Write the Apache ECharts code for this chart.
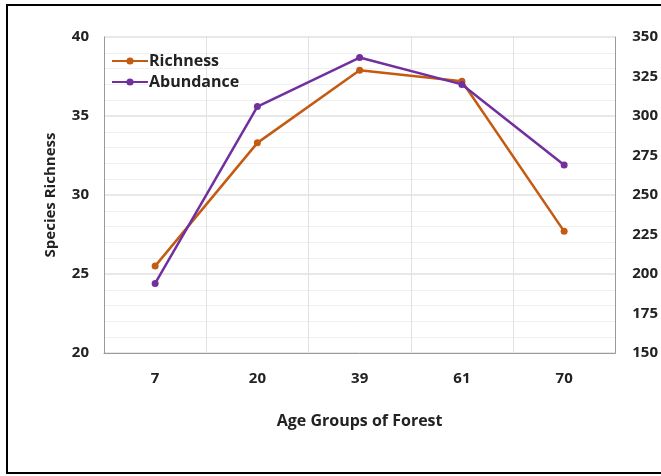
<!DOCTYPE html>
<html>
<head>
<meta charset="utf-8">
<script src="https://cdn.jsdelivr.net/npm/echarts@6/dist/echarts.min.js"></script>
<style>
  html, body { margin: 0; padding: 0; background: #fff; }
  #chart { width: 661px; height: 476px; }
</style>
</head>
<body>
<div id="chart"></div>
<script>
// Forest age groups and the two measured series
const ageGroups = ['7', '20', '39', '61', '70'];
const richness = [25.5, 33.3, 37.9, 37.2, 27.7];
const abundance = [194, 306, 337, 320, 269];

const leftTicks = { min: 20, max: 40, interval: 5 };
const rightTicks = { min: 150, max: 350, interval: 25 };

const fontFamily = '"Open Sans", "Noto Sans", sans-serif';
const labelStyle = { color: '#222', fontSize: 15, fontWeight: 'bold', fontFamily: fontFamily };

const chart = echarts.init(document.getElementById('chart'), null, { renderer: 'canvas' });

chart.setOption({
  animation: false,
  backgroundColor: '#fff',
  graphic: [{
    type: 'rect',
    shape: { x: 7, y: 5, width: 700, height: 468 },
    style: { fill: 'none', stroke: '#000', lineWidth: 2 },
    silent: true
  }],
  grid: { left: 104, right: 44, top: 37, bottom: 123, containLabel: false },
  legend: {
    left: 106, top: 48, orient: 'vertical', itemGap: 5,
    itemWidth: 36, itemHeight: 9,
    textStyle: { color: '#222', fontSize: 16, fontWeight: 'bold', fontFamily: fontFamily, padding: [0, 0, 0, -4] },
    data: ['Richness', 'Abundance']
  },
  xAxis: {
    type: 'category',
    data: ageGroups,
    boundaryGap: true,
    name: 'Age Groups of Forest',
    nameLocation: 'middle',
    nameGap: 60,
    nameTextStyle: Object.assign({}, labelStyle, { fontSize: 16 }),
    axisLine: { show: true, lineStyle: { color: '#9a9a9a', width: 1 } },
    axisTick: { show: false },
    axisLabel: Object.assign({ margin: 18 }, labelStyle),
    splitLine: { show: true, lineStyle: { color: '#e2e2e2', width: 1 } }
  },
  yAxis: [{
    type: 'value',
    min: leftTicks.min, max: leftTicks.max, interval: leftTicks.interval,
    name: 'Species Richness',
    nameLocation: 'middle',
    nameGap: 46,
    nameTextStyle: labelStyle,
    axisLine: { show: true, lineStyle: { color: '#9a9a9a', width: 1 } },
    axisTick: { show: false },
    axisLabel: Object.assign({ margin: 15 }, labelStyle),
    splitLine: { show: true, lineStyle: { color: '#e0e0e0', width: 1.5 } },
    minorTick: { show: false, splitNumber: 5 },
    minorSplitLine: { show: true, lineStyle: { color: '#f0f0f0', width: 1 } }
  }, {
    type: 'value',
    min: rightTicks.min, max: rightTicks.max, interval: rightTicks.interval,
    position: 'right',
    axisLine: { show: true, lineStyle: { color: '#9a9a9a', width: 1 } },
    axisTick: { show: false },
    axisLabel: Object.assign({ margin: 17 }, labelStyle),
    splitLine: { show: false }
  }],
  series: [{
    name: 'Richness',
    type: 'line',
    yAxisIndex: 0,
    data: richness,
    color: '#C55A11',
    symbol: 'circle',
    symbolSize: 7,
    lineStyle: { width: 2.5 },
    z: 3
  }, {
    name: 'Abundance',
    type: 'line',
    yAxisIndex: 1,
    data: abundance,
    color: '#7030A0',
    symbol: 'circle',
    symbolSize: 7,
    lineStyle: { width: 2.5 },
    z: 4
  }]
});
</script>
</body>
</html>
